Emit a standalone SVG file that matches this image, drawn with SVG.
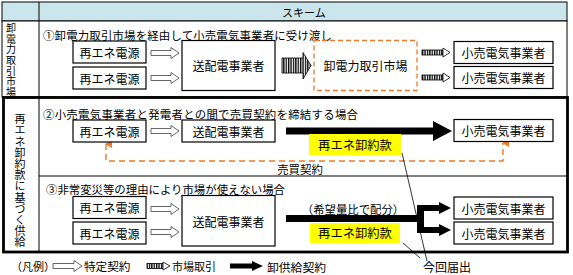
<svg xmlns="http://www.w3.org/2000/svg" width="573" height="275" viewBox="0 0 573 275">
<style>
text{font-family:"Noto Sans CJK JP","Noto Sans",sans-serif;fill:#000}
.t{font-size:11.4px}
.b{font-size:12px;text-anchor:middle;dominant-baseline:central}
.vt{writing-mode:vertical-rl;text-orientation:upright}
.box{fill:#fff;stroke:#000;stroke-width:1.2}
.thin{fill:none;stroke:#000;stroke-width:1}
.or{fill:none;stroke:#ee7a2a;stroke-width:1.4;stroke-dasharray:6 4}
.lead{fill:none;stroke:#000;stroke-width:0.8}
</style>
<defs>
<pattern id="st" width="2.4" height="20" patternUnits="userSpaceOnUse"><rect width="2.4" height="20" fill="#fff"/><rect width="1.3" height="20" fill="#000"/></pattern>
<path id="ha" d="M0,-2.5 H20 V-5.5 L28,0 L20,5.5 V2.5 H0 Z" fill="#fff" stroke="#666" stroke-width="1"/>
<g id="sa"><rect x="0" y="-2.5" width="21" height="5" fill="url(#st)" stroke="#000" stroke-width="0.8"/><path d="M21,-4.5 L28,0 L21,4.5 Z" fill="#fff" stroke="#000" stroke-width="0.8"/></g>
<marker id="oa" viewBox="0 0 8 8" refX="4" refY="1" markerWidth="8" markerHeight="8" markerUnits="userSpaceOnUse" orient="auto-start-reverse"><path d="M4,0 L8,7 L0,7 Z" fill="#ee7a2a"/></marker>
</defs>

<g id="table">
<rect x="2" y="2" width="565" height="19" fill="#cbe5ec" stroke="#000" stroke-width="1"/>
<rect x="2" y="21" width="565" height="76" fill="#fff" stroke="#000" stroke-width="1"/>
<rect x="3.5" y="97.5" width="564" height="154.5" fill="#fff" stroke="#000" stroke-width="2.8"/>
<line x1="39" y1="2" x2="39" y2="251" class="thin"/>
<line x1="39" y1="176" x2="567" y2="176" class="thin"/>
<text x="282" y="12" style="font-size:11px;dominant-baseline:central">スキーム</text>
<text class="vt" x="11" y="23.5" style="font-size:10px;letter-spacing:0.6px">卸電力取引市場</text>
<text class="vt" x="20" y="113.5" style="font-size:11px;letter-spacing:0.2px">再エネ卸約款に基づく供給</text>
<text class="t" x="43" y="35" dominant-baseline="central" textLength="289">①卸電力取引市場を経由して小売電気事業者に受け渡し</text>
<text class="t" x="43" y="114" dominant-baseline="central" textLength="315">②小売電気事業者と発電者との間で売買契約を締結する場合</text>
<text class="t" x="46" y="189" dominant-baseline="central" textLength="239">③非常変災等の理由により市場が使えない場合</text>
</g>

<g id="connectors">
<use href="#ha" x="151" y="53"/>
<use href="#ha" x="151" y="78"/>
<use href="#ha" x="151" y="131"/>
<use href="#ha" x="151" y="209"/>
<use href="#ha" x="151" y="232"/>
<path d="M282,58 H303 V52.5 L311,65.5 L303,79 V73 H282 Z" fill="url(#st)" stroke="#000" stroke-width="0.8"/>
<use href="#sa" x="422" y="52.5"/>
<use href="#sa" x="422" y="77.5"/>
<path d="M286,127.5 H433 V121 L452,131 L433,141 V134.5 H286 Z" fill="#000"/>
<path d="M286,215 H417 V205 H439 V202 L451,208 L439,214 V211 H424 V227 H439 V224 L451,230 L439,236 V233 H417 V222 H286 Z" fill="#000"/>
<path d="M106,144 V161 H503 V143" class="or" marker-start="url(#oa)" marker-end="url(#oa)"/>
<line x1="402" y1="153" x2="427" y2="261" class="lead"/>
<line x1="403" y1="243" x2="420" y2="258" class="lead"/>
</g>

<g id="n-src1a"><rect x="73" y="41" width="73" height="22" class="box"/><text class="b" x="109.5" y="52">再エネ電源</text></g>
<g id="n-src1b"><rect x="73" y="67" width="73" height="22" class="box"/><text class="b" x="109.5" y="78">再エネ電源</text></g>
<g id="n-tso1"><rect x="182" y="40.5" width="93" height="50" class="box"/><text class="b" x="228.5" y="65.5">送配電事業者</text></g>
<g id="n-market"><rect x="314" y="40.5" width="103" height="50" fill="none" stroke="#ee7a2a" stroke-width="1.3" stroke-dasharray="5 3"/><text class="b" x="365.5" y="65.5">卸電力取引市場</text></g>
<g id="n-ret1a"><rect x="454" y="41.5" width="99" height="22" class="box"/><text class="b" x="503.5" y="52.5">小売電気事業者</text></g>
<g id="n-ret1b"><rect x="454" y="66.5" width="99" height="22" class="box"/><text class="b" x="503.5" y="77.5">小売電気事業者</text></g>

<g id="n-src2"><rect x="73" y="120" width="73" height="22" class="box"/><text class="b" x="109.5" y="131">再エネ電源</text></g>
<g id="n-tso2"><rect x="182" y="120" width="93" height="22" class="box"/><text class="b" x="228.5" y="131">送配電事業者</text></g>
<g id="n-ret2"><rect x="454" y="119.5" width="99" height="22" class="box"/><text class="b" x="503.5" y="130.5">小売電気事業者</text></g>
<g id="n-lbl2"><rect x="309" y="134" width="92" height="21" fill="#ffff00"/><text class="b" x="355" y="144.5" style="font-size:12.3px">再エネ卸約款</text></g>
<text x="300" y="169" style="font-size:11.4px;text-anchor:middle;dominant-baseline:central">売買契約</text>

<g id="n-src3a"><rect x="73" y="196.5" width="73" height="22" class="box"/><text class="b" x="109.5" y="207.5">再エネ電源</text></g>
<g id="n-src3b"><rect x="73" y="222" width="73" height="22" class="box"/><text class="b" x="109.5" y="233">再エネ電源</text></g>
<g id="n-tso3"><rect x="182" y="195.5" width="93" height="50.5" class="box"/><text class="b" x="228.5" y="221">送配電事業者</text></g>
<g id="n-ret3a"><rect x="454" y="197" width="99" height="22" class="box"/><text class="b" x="503.5" y="208">小売電気事業者</text></g>
<g id="n-ret3b"><rect x="454" y="222" width="99" height="22" class="box"/><text class="b" x="503.5" y="233">小売電気事業者</text></g>
<text x="353" y="209" style="font-size:11.4px;text-anchor:middle;dominant-baseline:central">（希望量比で配分）</text>
<g id="n-lbl3"><rect x="310" y="223" width="90" height="20" fill="#ffff00"/><text class="b" x="355" y="233" style="font-size:12.3px">再エネ卸約款</text></g>

<text x="447" y="266" style="font-size:12px;text-anchor:middle;dominant-baseline:central">今回届出</text>

<g id="legend">
<text x="11" y="266" style="font-size:11px;dominant-baseline:central">（凡例）</text>
<path d="M53,263.5 H74 V260.5 L82,266 L74,271.5 V268.5 H53 Z" fill="#fff" stroke="#666" stroke-width="1"/>
<text x="84" y="266" style="font-size:11.6px;dominant-baseline:central">特定契約</text>
<rect x="147" y="263.5" width="16" height="5" fill="url(#st)" stroke="#000" stroke-width="0.8"/>
<path d="M163,262 L170,266 L163,270 Z" fill="#fff" stroke="#000" stroke-width="0.8"/>
<text x="172" y="266" style="font-size:11px;dominant-baseline:central">市場取引</text>
<path d="M230,263.5 H252 V261 L263,266 L252,271 V268.5 H230 Z" fill="#000"/>
<text x="267" y="266" style="font-size:11.8px;dominant-baseline:central">卸供給契約</text>
</g>
</svg>
